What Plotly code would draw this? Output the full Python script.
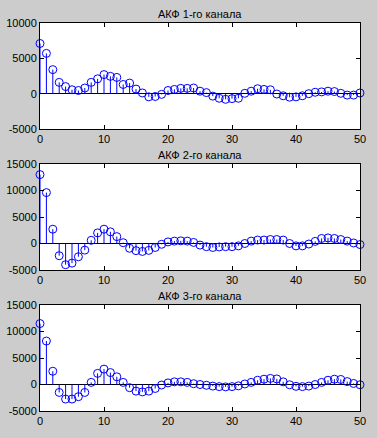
import plotly.graph_objects as go

lags = list(range(51))

acf1 = [7100, 5700, 3400, 1600, 1000, 550, 450, 800, 1600, 2100,
        2700, 2450, 2300, 1300, 1500, 650, 100, -450, -400, -100,
        450, 600, 750, 750, 800, 350, 150, -350, -650, -800,
        -700, -650, 50, 350, 700, 600, 550, -50, -300, -500,
        -450, -300, 0, 200, 250, 350, 300, 50, -200, -200, 100]

acf2 = [13000, 9600, 2700, -2300, -4000, -3700, -2500, -1250, 600, 2000,
        2700, 2200, 1300, 150, -900, -1350, -1500, -1300, -750, -150,
        300, 450, 500, 450, 200, -300, -600, -750, -650, -600,
        -600, -450, 0, 450, 650, 650, 750, 750, 650, 0,
        -450, -450, -100, 400, 950, 1050, 950, 750, 450, 100, -200]

acf3 = [11500, 8200, 2500, -1500, -2750, -2750, -2300, -1500, 400, 2100,
        2900, 2250, 1450, 400, -600, -1250, -1400, -1250, -750, -100,
        300, 500, 500, 400, 150, 0, -150, -300, -400, -450,
        -400, -250, 100, 400, 800, 1000, 1150, 1050, 500, -50,
        -350, -400, -300, 0, 400, 800, 1000, 950, 550, 200, -50]

titles = ["АКФ 1-го канала", "АКФ 2-го канала", "АКФ 3-го канала"]
series = [acf1, acf2, acf3]
yranges = [[-5000, 10000], [-5000, 15000], [-5000, 15000]]
ytickvals = [[-5000, 0, 5000, 10000], [-5000, 0, 5000, 10000, 15000], [-5000, 0, 5000, 10000, 15000]]
xtickvals = [0, 10, 20, 30, 40, 50]

W, H = 377, 438
ml, mr, mt, mb = 40, 17, 23, 27
ph = H - mt - mb
boxes = [(23, 129), (164, 270), (305, 411)]

fig = go.Figure()
font = dict(family="Liberation Sans, Arial, sans-serif", size=11, color="black")
blue = "#0000ff"

for i, (vals, title) in enumerate(zip(series, titles)):
    n = i + 1
    xa = "x" if n == 1 else f"x{n}"
    ya = "y" if n == 1 else f"y{n}"
    sx, sy = [], []
    for x, y in zip(lags, vals):
        sx += [x, x, None]
        sy += [0, y, None]
    fig.add_trace(go.Scatter(x=sx, y=sy, mode="lines", line=dict(color=blue, width=1),
                             xaxis=xa, yaxis=ya, showlegend=False, hoverinfo="skip"))
    fig.add_trace(go.Scatter(x=lags, y=vals, mode="markers",
                             marker=dict(symbol="circle-open", size=8, color=blue, line=dict(width=1, color=blue)),
                             xaxis=xa, yaxis=ya, showlegend=False, cliponaxis=False))
    top, bot = boxes[i]
    d0 = (H - mb - bot) / ph
    d1 = (H - mb - top) / ph
    axcommon = dict(showline=True, linecolor="black", linewidth=1, mirror="ticks",
                    ticks="inside", ticklen=4, tickcolor="black", showgrid=False,
                    tickfont=font, automargin=False)
    fig.update_layout(**{
        ("xaxis" if n == 1 else f"xaxis{n}"): dict(domain=[0, 1], range=[0, 50], tickvals=xtickvals,
                                                 ticktext=[str(v) for v in xtickvals],
                                                 anchor=ya, zeroline=False, **axcommon),
        ("yaxis" if n == 1 else f"yaxis{n}"): dict(domain=[d0, d1], range=yranges[i], tickvals=ytickvals[i],
                                                 ticktext=[str(v) for v in ytickvals[i]],
                                                 anchor=xa, zeroline=True, zerolinecolor="black",
                                                 zerolinewidth=1, **axcommon),
    })
    fig.add_annotation(text=title, xref="paper", yref="paper", x=0.5, y=d1, yanchor="bottom",
                       yshift=1, showarrow=False, font=font)

fig.update_layout(width=W, height=H, margin=dict(l=ml, r=mr, t=mt, b=mb),
                  paper_bgcolor="#cccccc", plot_bgcolor="white", font=font)

fig.write_html("out.html", config={"displayModeBar": False},
               post_script="document.body.style.margin='0';document.body.style.background='#cccccc';")
